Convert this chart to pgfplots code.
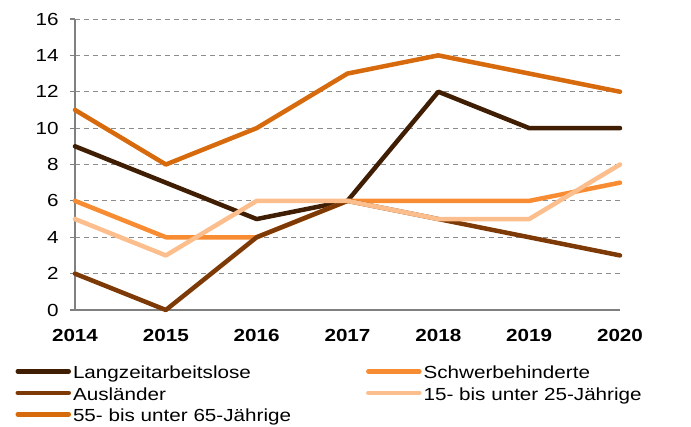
\documentclass[border=0pt]{standalone}
\usepackage{fontspec}
\setmainfont[FakeStretch=1.18]{Liberation Sans}
\usepackage{pgfplots}
\pgfplotsset{compat=1.18}
\definecolor{c1}{RGB}{64,30,4}
\definecolor{c2}{RGB}{247,140,50}
\definecolor{c3}{RGB}{126,58,6}
\definecolor{c4}{RGB}{251,190,140}
\definecolor{c5}{RGB}{214,106,12}
\begin{document}
\begin{tikzpicture}
\path[use as bounding box] (-75bp,-117bp) rectangle (616bp,310bp);
\begin{axis}[
 scale only axis, width=545bp, height=291bp,
 xmin=2014, xmax=2020, ymin=0, ymax=16,
 xtick={2014,2015,2016,2017,2018,2019,2020},
 xticklabels={2014,2015,2016,2017,2018,2019,2020},
 ytick={0,2,4,6,8,10,12,14,16},
 axis x line*=bottom, axis y line*=left,
 axis line style={-, draw=black!50, line width=1.3bp},
 tick align=outside, major tick length=5bp,
 tick style={black!50, line width=1.1bp},
 xtick style={draw=none},
 ymajorgrids, grid style={black!45, line width=0.9bp, dash pattern=on 5bp off 4bp},
 font=\fontsize{17.5bp}{21bp}\selectfont,
 ticklabel style={font=\fontsize{17.5bp}{21bp}\selectfont},
 yticklabel style={xshift=-8bp},
 xticklabel style={font=\fontsize{17.5bp}{21bp}\selectfont\bfseries, yshift=-11bp},
 /pgf/number format/assume math mode=true,
 clip=false,
 every axis plot/.append style={line width=4.5bp, line join=round, line cap=round},
 legend columns=2,
 legend cell align=left,
 legend image code/.code={\draw[#1, line width=4.5bp, line cap=round] (0bp,2bp) -- (51bp,2bp);},
 legend style={draw=none, fill=none, at={(-0.115,-0.184)}, anchor=north west,
   font=\fontsize{17.5bp}{21bp}\selectfont,
   row sep=6.3bp, nodes={inner xsep=2bp, inner ysep=0.5bp},
   /tikz/every even column/.append style={column sep=73bp}},
]
\addplot[c1] coordinates {(2014,9)(2015,7)(2016,5)(2017,6)(2018,12)(2019,10)(2020,10)};
\addlegendentry{Langzeitarbeitslose}
\addplot[c2] coordinates {(2014,6)(2015,4)(2016,4)(2017,6)(2018,6)(2019,6)(2020,7)};
\addlegendentry{Schwerbehinderte}
\addplot[c3] coordinates {(2014,2)(2015,0)(2016,4)(2017,6)(2018,5)(2019,4)(2020,3)};
\addlegendentry{Ausländer}
\addplot[c4] coordinates {(2014,5)(2015,3)(2016,6)(2017,6)(2018,5)(2019,5)(2020,8)};
\addlegendentry{15- bis unter 25-Jährige}
\addplot[c5] coordinates {(2014,11)(2015,8)(2016,10)(2017,13)(2018,14)(2019,13)(2020,12)};
\addlegendentry{55- bis unter 65-Jährige}
\end{axis}
\end{tikzpicture}
\end{document}
